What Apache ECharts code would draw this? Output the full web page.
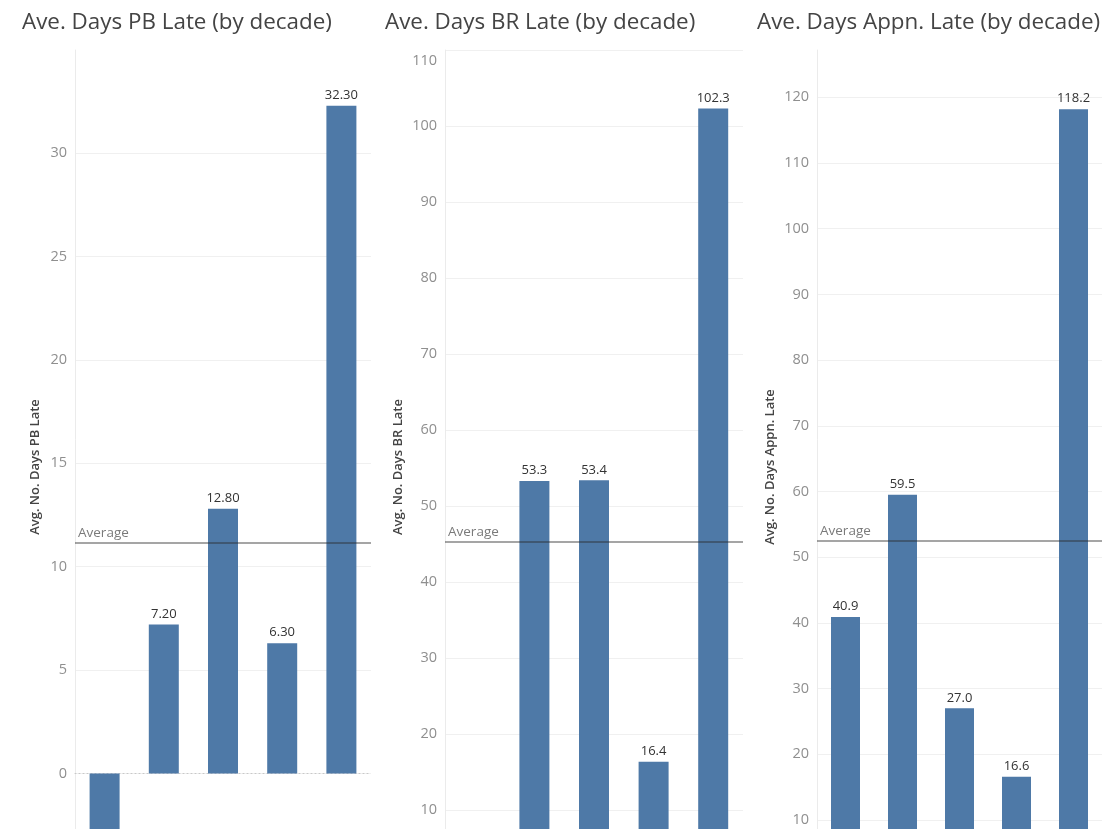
<!DOCTYPE html>
<html>
<head>
<meta charset="utf-8">
<script src="https://cdn.jsdelivr.net/npm/echarts@6/dist/echarts.min.js"></script>
<style>
html,body{margin:0;padding:0;background:#fff;overflow:hidden;}
#chart{width:1102px;height:829px;}
</style>
</head>
<body>
<div id="chart"></div>
<script>
// ---- Data ----
const categories = ['1970s', '1980s', '1990s', '2000s', '2010s'];
const pbValues   = [-2.8, 7.2, 12.8, 6.3, 32.3];
const brValues   = [0.9, 53.3, 53.4, 16.4, 102.3];
const appnValues = [40.9, 59.5, 27.0, 16.6, 118.2];
const titles = ['Ave. Days PB Late (by decade)', 'Ave. Days BR Late (by decade)', 'Ave. Days Appn. Late (by decade)'];
const axisNames = ['Avg. No. Days PB Late', 'Avg. No. Days BR Late', 'Avg. No. Days Appn. Late'];
const decimals = [2, 1, 1];

// ---- Layout / style ----
const FONT = '"Open Sans", sans-serif';
const BAR = '#4e79a7';
const panels = [
  { values: pbValues,   grid: { left: 75,  right: 731, top: 50, bottom: 0 }, min: -2.69, max: 35,   split: 7,  showMax: false, barWidth: 30, titleLeft: 17,  nameX: 35 },
  { values: brValues,   grid: { left: 445, right: 359, top: 50, bottom: 0 }, min: 7.54,  max: 110,  split: 10, showMax: true,  barWidth: 30, titleLeft: 380, nameX: 398 },
  { values: appnValues, grid: { left: 817, right: -5,  top: 50, bottom: 0 }, min: 8.63,  max: 127.2, split: 12, showMax: false, barWidth: 29, titleLeft: 752, nameX: 770 }
];

const chart = echarts.init(document.getElementById('chart'), null, { renderer: 'canvas' });

const option = {
  animation: false,
  textStyle: { fontFamily: FONT },
  title: panels.map((p, i) => ({
    text: titles[i], left: p.titleLeft, top: 7,
    textStyle: { fontFamily: FONT, fontSize: 22.4, fontWeight: 'normal', color: '#444' }
  })),
  graphic: panels.map((p, i) => ({
    type: 'text', x: p.nameX, y: 467, rotation: Math.PI / 2,
    style: { text: axisNames[i], fontFamily: FONT, fontSize: 13, fontWeight: 600, fill: '#444', align: 'center', verticalAlign: 'middle' }
  })),
  grid: panels.map(p => Object.assign({ containLabel: false }, p.grid)),
  xAxis: panels.map((p, i) => ({
    type: 'category', gridIndex: i, data: categories,
    axisTick: { show: false }, axisLabel: { show: false },
    axisLine: { show: i === 0, onZero: true, lineStyle: { color: '#c8c8c8', type: [1, 3], width: 1 } },
    splitLine: { show: false }
  })),
  yAxis: panels.map((p, i) => ({
    type: 'value', gridIndex: i, min: p.min, max: p.max, splitNumber: p.split,
    axisLine: { show: true, lineStyle: { color: '#ebebeb' } },
    axisTick: { show: false },
    splitLine: { show: true, showMinLine: false, showMaxLine: p.showMax, lineStyle: { color: '#f0f0f0', width: 1 } },
    axisLabel: {
      show: true, margin: 8, color: '#8f8f8f', fontSize: 14.5, fontFamily: FONT,
      showMinLabel: false, showMaxLabel: p.showMax,
      formatter: v => (Math.abs(v - p.max) < 1e-6 ? '{top|' + v + '}' : String(v)),
      rich: { top: { padding: [21, 0, 0, 0], color: '#8f8f8f', fontSize: 14.5, fontFamily: FONT } }
    }
  })),
  series: panels.map((p, i) => ({
    type: 'bar', xAxisIndex: i, yAxisIndex: i, barWidth: p.barWidth,
    itemStyle: { color: BAR },
    data: p.values.map(v => v < 0 ? { value: v, label: { position: 'bottom' } } : v),
    label: {
      show: true, position: 'top', distance: 4, color: '#333', fontSize: 13, fontFamily: FONT,
      formatter: d => d.value.toFixed(decimals[i])
    },
    markLine: {
      silent: true, symbol: 'none',
      lineStyle: { color: 'rgba(40,40,40,0.42)', width: 2, type: 'solid' },
      label: { show: true, position: 'insideStartTop', formatter: 'Average', color: '#7a7a7a', fontSize: 13.5, fontFamily: FONT, distance: [3, 3] },
      emphasis: { disabled: true },
      data: [{ type: 'average' }]
    }
  }))
};
chart.setOption(option);
</script>
</body>
</html>
